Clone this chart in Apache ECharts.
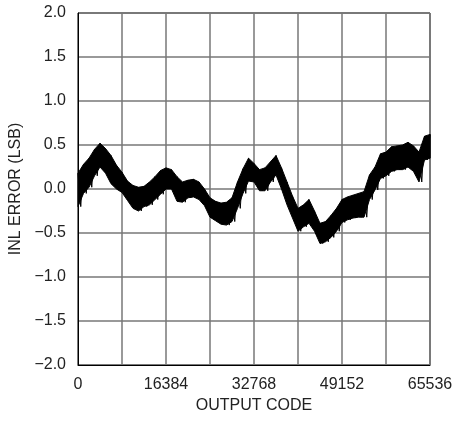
<!DOCTYPE html>
<html><head><meta charset="utf-8">
<script src="https://cdn.jsdelivr.net/npm/echarts@6/dist/echarts.min.js"></script>
<style>html,body{margin:0;padding:0;background:#fff}#c{width:452px;height:421px}</style>
</head><body><div id="c"></div>
<script>
// Output code sample positions (every 1024 codes)
const codes = [];
for (let i = 0; i <= 64; i++) codes.push(i * 1024);
// Upper envelope of INL band (LSB)
const inlHigh = [0.18,0.28,0.35,0.45,0.52,0.46,0.38,0.27,0.19,0.09,0.04,0.02,0.03,0.08,0.14,0.21,0.24,0.22,0.14,0.08,0.10,0.11,0.08,0.00,-0.10,-0.14,-0.16,-0.15,-0.10,0.08,0.23,0.35,0.29,0.22,0.24,0.31,0.38,0.24,0.08,-0.08,-0.22,-0.18,-0.12,-0.25,-0.39,-0.37,-0.30,-0.22,-0.12,-0.09,-0.07,-0.05,-0.03,0.16,0.25,0.40,0.42,0.48,0.49,0.50,0.53,0.49,0.42,0.60,0.62];
// Lower envelope of INL band (LSB)
const inlLow = [-0.20,-0.05,0.02,0.15,0.25,0.18,0.06,0.00,-0.04,-0.13,-0.22,-0.25,-0.20,-0.18,-0.12,-0.06,0.00,0.00,-0.14,-0.15,-0.10,-0.09,-0.12,-0.19,-0.32,-0.36,-0.40,-0.41,-0.37,-0.22,-0.05,0.09,0.08,-0.02,-0.02,0.08,0.16,0.00,-0.18,-0.33,-0.48,-0.43,-0.39,-0.48,-0.62,-0.60,-0.55,-0.48,-0.38,-0.35,-0.33,-0.32,-0.32,-0.12,-0.01,0.12,0.15,0.20,0.22,0.22,0.25,0.20,0.08,0.33,0.35];
const yTicks = [-2.0,-1.5,-1.0,-0.5,0.0,0.5,1.0,1.5,2.0];
const xTickLabels = [0,16384,32768,49152,65536];

const FONT = '"Liberation Sans", Arial, sans-serif';
const zig = [];
for (let i = 0; i < codes.length; i++) {
  zig.push([codes[i], inlHigh[i]]);
  zig.push([codes[i] + (i < codes.length - 1 ? 512 : 0), inlLow[i]]);
}
const chart = echarts.init(document.getElementById('c'), null, {renderer: 'canvas'});
chart.setOption({
  animation: false,
  backgroundColor: '#fff',
  grid: {left: 78, top: 13, width: 352, height: 352, outerBoundsMode: 'none', containLabel: false,
         show: true, borderColor: '#000', borderWidth: 1, backgroundColor: 'transparent'},
  xAxis: {
    type: 'value', min: 0, max: 65536, interval: 8192,
    name: 'OUTPUT CODE', nameLocation: 'middle', nameGap: 32,
    nameTextStyle: {fontFamily: FONT, fontSize: 16, color: '#222'},
    axisLine: {show: true, onZero: false, lineStyle: {color: '#000', width: 1}},
    axisTick: {show: false},
    splitLine: {show: true, lineStyle: {color: '#777', width: 1.5}},
    axisLabel: {
      fontFamily: FONT, fontSize: 16, color: '#222', margin: 12, showMaxLabel: true, showMinLabel: true,
      formatter: v => xTickLabels.indexOf(v) >= 0 ? String(v) : ''
    }
  },
  yAxis: {
    type: 'value', min: -2, max: 2, interval: 0.5,
    name: 'INL ERROR (LSB)', nameLocation: 'middle', nameGap: 47,
    nameTextStyle: {fontFamily: FONT, fontSize: 16, color: '#222'},
    axisLine: {show: true, onZero: false, lineStyle: {color: '#000', width: 1}},
    axisTick: {show: false},
    splitLine: {show: true, lineStyle: {color: '#777', width: 1.5}},
    axisLabel: {
      fontFamily: FONT, fontSize: 16, color: '#222', margin: 12,
      formatter: v => (v < 0 ? '\u2212' + Math.abs(v).toFixed(1) : v.toFixed(1))
    }
  },
  series: [
    {
      type: 'custom', silent: true, z: 3,
      data: [0],
      renderItem: function (params, api) {
        const pts = [];
        for (let i = 0; i < codes.length; i++) pts.push(api.coord([codes[i], inlHigh[i]]));
        for (let i = codes.length - 1; i >= 0; i--) pts.push(api.coord([codes[i], inlLow[i]]));
        return {type: 'polygon', shape: {points: pts}, style: {fill: '#000', stroke: '#000', lineWidth: 1}};
      }
    },
    {
      type: 'line', data: zig, symbol: 'none', silent: true, z: 4,
      lineStyle: {color: '#000', width: 1}
    }
  ]
});
</script></body></html>
